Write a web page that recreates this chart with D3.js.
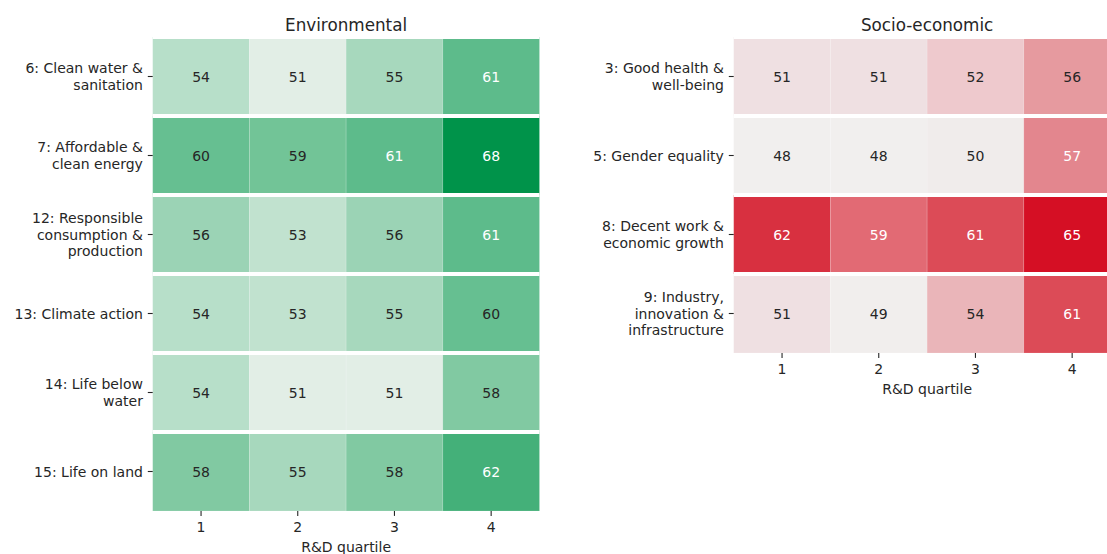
<!DOCTYPE html>
<html>
<head>
<meta charset="utf-8">
<script src="https://cdn.jsdelivr.net/npm/d3@7"></script>
<style>
  html, body { margin: 0; padding: 0; background: #ffffff; }
  svg { display: block; font-family: "DejaVu Sans", sans-serif; }
</style>
</head>
<body>
<svg id="chart" width="1107" height="554"></svg>
<script>
// ---- data ----
const quartiles = ["1", "2", "3", "4"];

const envLabels = [
  "6: Clean water &\nsanitation",
  "7: Affordable &\nclean energy",
  "12: Responsible\nconsumption &\nproduction",
  "13: Climate action",
  "14: Life below\nwater",
  "15: Life on land"
];
const envValues = [
  [54, 51, 55, 61],
  [60, 59, 61, 68],
  [56, 53, 56, 61],
  [54, 53, 55, 60],
  [54, 51, 51, 58],
  [58, 55, 58, 62]
];

const socLabels = [
  "3: Good health &\nwell-being",
  "5: Gender equality",
  "8: Decent work &\neconomic growth",
  "9: Industry,\ninnovation &\ninfrastructure"
];
const socValues = [
  [51, 51, 52, 56],
  [48, 48, 50, 57],
  [62, 59, 61, 65],
  [51, 49, 54, 61]
];

const titles = ["Environmental", "Socio-economic"];
const xLabel = "R&D quartile";

// ---- colour stops (style) ----
const greenStops = [50, 51, 53, 54, 55, 56, 58, 59, 60, 61, 62, 68];
const greenColors = ["#eef1ef", "#e2eee6", "#c1e2cf", "#b7dfc9", "#a7d8bd", "#9bd3b5",
                     "#81c9a2", "#72c497", "#66bf91", "#5dbb8b", "#44b079", "#00934a"];
const redStops = [48, 50, 51, 52, 54, 56, 57, 59, 61, 62, 65];
const redColors = ["#f1efee", "#f0eceb", "#efe0e2", "#eec9cd", "#eab5b9", "#e69a9f",
                   "#e3868e", "#e26a74", "#dc4b57", "#d83040", "#d50f24"];

const svg = d3.select("#chart");
svg.append("rect").attr("width", 1107).attr("height", 554).attr("fill", "#ffffff");

const FS = 14, TFS = 16.8, LH = 16.4, TICK = 4.9, PAD = 4.9, DARK = "#262626";

function luminance(c) {
  const rgb = d3.rgb(c);
  const f = v => { v /= 255; return v <= 0.03928 ? v / 12.92 : Math.pow((v + 0.055) / 1.055, 2.4); };
  return 0.2126 * f(rgb.r) + 0.7152 * f(rgb.g) + 0.0722 * f(rgb.b);
}

function heatmap(opts) {
  const { labels, values, x0, x1, y0, y1, stops, colors, title } = opts;
  const x = d3.scaleBand().domain(quartiles).range([x0, x1]);
  const y = d3.scaleBand().domain(labels).range([y0, y1]);
  const color = d3.scaleLinear().domain(stops).range(colors).interpolate(d3.interpolateRgb).clamp(true);

  const g = svg.append("g");
  const cells = [];
  values.forEach((row, i) => row.forEach((v, j) => cells.push({ r: labels[i], c: quartiles[j], v })));

  g.selectAll("rect.cell").data(cells).join("rect")
    .attr("class", "cell")
    .attr("x", d => x(d.c)).attr("y", d => y(d.r))
    .attr("width", x.bandwidth()).attr("height", y.bandwidth())
    .attr("fill", d => color(d.v))
    .attr("stroke", "#ffffff").attr("stroke-opacity", 0.18).attr("stroke-width", 0.8);

  g.selectAll("text.ann").data(cells).join("text")
    .attr("class", "ann")
    .attr("x", d => x(d.c) + x.bandwidth() / 2)
    .attr("y", d => y(d.r) + y.bandwidth() / 2)
    .attr("dy", "0.36em")
    .attr("text-anchor", "middle")
    .attr("font-size", FS)
    .attr("fill", d => luminance(color(d.v)) < 0.408 ? "#ffffff" : DARK)
    .text(d => d.v);

  // white separators between rows (drawn at each row's top edge)
  g.selectAll("line.sep").data(labels).join("line")
    .attr("class", "sep")
    .attr("x1", x0).attr("x2", x1)
    .attr("y1", d => y(d)).attr("y2", d => y(d))
    .attr("stroke", "#ffffff").attr("stroke-width", 4);

  // y axis
  const ya = svg.append("g").attr("transform", `translate(${x0},0)`)
    .call(d3.axisLeft(y).tickSize(TICK).tickPadding(PAD));
  ya.select(".domain").remove();
  ya.selectAll(".tick line").attr("stroke", DARK).attr("stroke-width", 1.1);
  ya.selectAll(".tick text").each(function (d) {
    const t = d3.select(this);
    const lines = d.split("\n");
    const n = lines.length;
    const xx = t.attr("x");
    t.attr("dy", null).text(null)
      .attr("font-size", FS).attr("fill", DARK).attr("font-family", "DejaVu Sans");
    lines.forEach((ln, i) => {
      t.append("tspan").attr("x", xx)
        .attr("dy", i === 0 ? (0.36 * FS - (n - 1) / 2 * LH) : LH)
        .text(ln);
    });
  });

  // x axis
  const xa = svg.append("g").attr("transform", `translate(0,${y1})`)
    .call(d3.axisBottom(x).tickSize(TICK).tickPadding(PAD + 1.5));
  xa.select(".domain").remove();
  xa.selectAll(".tick line").attr("stroke", DARK).attr("stroke-width", 1.1);
  xa.selectAll(".tick text").attr("font-size", FS).attr("fill", DARK).attr("font-family", "DejaVu Sans");

  svg.append("text")
    .attr("x", (x0 + x1) / 2).attr("y", y1 + 40.5)
    .attr("text-anchor", "middle").attr("font-size", FS).attr("fill", DARK)
    .text(xLabel);

  svg.append("text")
    .attr("x", (x0 + x1) / 2).attr("y", y0 - 5.8)
    .attr("text-anchor", "middle").attr("font-size", TFS).attr("fill", DARK)
    .text(title);
}

heatmap({ labels: envLabels, values: envValues, x0: 152.7, x1: 539.5, y0: 37, y1: 511,
          stops: greenStops, colors: greenColors, title: titles[0] });
heatmap({ labels: socLabels, values: socValues, x0: 733.7, x1: 1120.5, y0: 37, y1: 353,
          stops: redStops, colors: redColors, title: titles[1] });
</script>
</body>
</html>
